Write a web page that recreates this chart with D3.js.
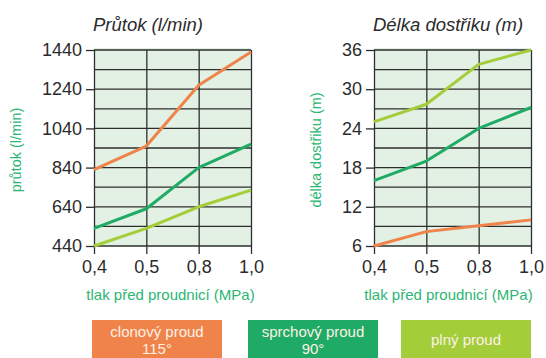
<!DOCTYPE html>
<html>
<head>
<meta charset="utf-8">
<script src="https://cdn.jsdelivr.net/npm/d3@7"></script>
<style>
  body { margin: 0; background: #fff; }
  svg { display: block; font-family: 'Liberation Sans', Arial, sans-serif; }
</style>
</head>
<body>
<svg width="546" height="358"></svg>
<script>
let svg = d3.select('svg');

// data
let pressures = ['0,4', '0,5', '0,8', '1,0'];
let seriesNames = ['clonový proud', 'sprchový proud', 'plný proud'];
let seriesSub = ['115°', '90°', ''];
let colors = ['#f0834a', '#1fab65', '#a3cd39'];

let flowClon = [830, 950, 1260, 1430];
let flowSprch = [530, 630, 840, 960];
let flowPlny = [440, 530, 640, 725];

let reachClon = [6, 8.2, 9.1, 10];
let reachSprch = [16, 19, 24, 27.2];
let reachPlny = [25, 27.7, 33.8, 36];

let flowTicks = [440, 640, 840, 1040, 1240, 1440];
let reachTicks = [6, 12, 18, 24, 30, 36];

let green = '#2cb673';
let grid = '#2e2e2e';

function panel(opts) {
    let x = d3.scalePoint().domain(pressures).range([opts.left, opts.right]);
    let y = d3.scaleLinear().domain(opts.domain).range([246, 50]);
    let g = svg.append('g');

    g.append('rect')
        .attr('x', opts.left).attr('y', 48)
        .attr('width', opts.right - opts.left).attr('height', 198)
        .attr('fill', '#e2f1e4');

    // minor + major horizontal gridlines
    let step = (opts.domain[1] - opts.domain[0]) / 10;
    let hLines = d3.range(11).map(i => opts.domain[0] + i * step);
    g.selectAll('.h').data(hLines).enter().append('line')
        .attr('x1', opts.left).attr('x2', opts.right)
        .attr('y1', d => y(d)).attr('y2', d => y(d))
        .attr('stroke', grid).attr('stroke-width', 1.3);

    // x axis: vertical gridlines extending below
    g.append('g')
        .attr('transform', 'translate(0,' + y(opts.domain[0]) + ')')
        .call(d3.axisBottom(x))
        .call(a => a.select('.domain').remove())
        .call(a => a.selectAll('.tick line').attr('y1', 8).attr('y2', -196)
            .attr('stroke', grid).attr('stroke-width', 1.3))
        .call(a => a.selectAll('.tick text').attr('y', 14)
            .attr('font-size', 18).attr('fill', '#2b2b2b').attr('font-family', 'Liberation Sans, Arial, sans-serif'));

    // y axis
    g.append('g')
        .attr('transform', 'translate(' + opts.left + ',0)')
        .call(d3.axisLeft(y).tickValues(opts.ticks).tickFormat(d3.format('d')).tickSize(8).tickPadding(4))
        .call(a => a.select('.domain').remove())
        .call(a => a.selectAll('.tick line').attr('stroke', grid).attr('stroke-width', 1.3))
        .call(a => a.selectAll('.tick text').attr('font-size', 18).attr('fill', '#2b2b2b')
            .attr('font-family', 'Liberation Sans, Arial, sans-serif'));

    let line = d3.line().x((d, i) => x(pressures[i])).y(d => y(d));
    opts.series.forEach((s, i) => {
        g.append('path').datum(s)
            .attr('d', line)
            .attr('fill', 'none')
            .attr('stroke', colors[i])
            .attr('stroke-width', 3)
            .attr('stroke-linejoin', 'round');
    });

    g.append('text')
        .attr('x', opts.titleX).attr('y', 31)
        .attr('text-anchor', 'middle')
        .attr('font-style', 'italic')
        .attr('font-size', 18.5)
        .attr('fill', '#2b2b2b')
        .text(opts.title);

    g.append('text')
        .attr('x', (opts.left + opts.right) / 2 + opts.xTitleShift).attr('y', 300)
        .attr('text-anchor', 'middle')
        .attr('font-size', 15)
        .attr('fill', green)
        .text('tlak před proudnicí (MPa)');

    g.append('text')
        .attr('transform', 'translate(' + opts.yTitleX + ',150) rotate(-90)')
        .attr('text-anchor', 'middle')
        .attr('font-size', 14.5)
        .attr('fill', green)
        .text(opts.yTitle);
}

panel({
    left: 94, right: 251, domain: [440, 1440], ticks: flowTicks,
    series: [flowClon, flowSprch, flowPlny],
    title: 'Průtok (l/min)', titleX: 148,
    yTitle: 'průtok (l/min)', yTitleX: 21, xTitleShift: -2
});

panel({
    left: 374, right: 531, domain: [6, 36], ticks: reachTicks,
    series: [reachClon, reachSprch, reachPlny],
    title: 'Délka dostřiku (m)', titleX: 448,
    yTitle: 'délka dostřiku (m)', yTitleX: 321, xTitleShift: -4
});

// legend boxes
let legendX = [92, 248, 401];
let leg = svg.selectAll('.leg').data(seriesNames).enter().append('g')
    .attr('transform', (d, i) => 'translate(' + legendX[i] + ',320)');

leg.append('rect')
    .attr('width', 130).attr('height', 38)
    .attr('fill', (d, i) => colors[i]);

leg.append('text')
    .attr('x', 65)
    .attr('y', (d, i) => seriesSub[i] ? 17 : 25)
    .attr('text-anchor', 'middle')
    .attr('font-size', 15)
    .attr('fill', '#fdf1e6')
    .text(d => d);

leg.append('text')
    .attr('x', 65).attr('y', 34)
    .attr('text-anchor', 'middle')
    .attr('font-size', 15)
    .attr('fill', '#fdf1e6')
    .text((d, i) => seriesSub[i]);
</script>
</body>
</html>
